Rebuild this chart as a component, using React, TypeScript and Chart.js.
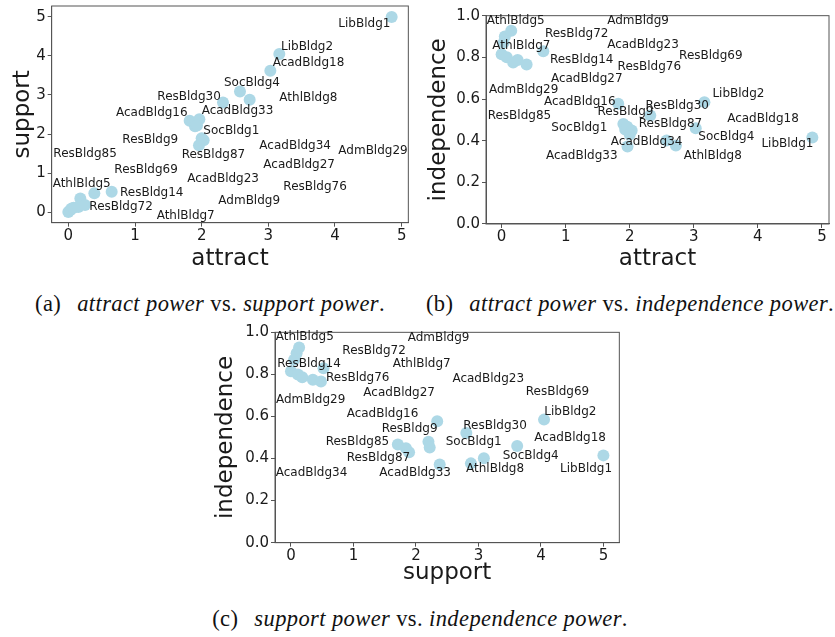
import React, { useEffect, useRef } from 'react';
import { Chart, registerables } from 'chart.js';

Chart.register(...registerables);

// ---- point values (one entry per building point) ----
const attractPower = [0.0, 0.03, 0.05, 0.08, 0.15, 0.18, 0.25, 0.39, 0.65, 1.82, 1.965, 2.32, 2.575, 2.72, 3.03, 3.165, 4.85, 1.9, 1.93, 1.96, 2.03, 2.0];
const supportPower = [0.0, 0.05, 0.09, 0.11, 0.13, 0.35, 0.18, 0.48, 0.52, 2.34, 2.38, 2.806, 3.087, 2.88, 3.62, 4.05, 5.0, 2.2, 2.22, 1.71, 1.84, 1.89];
const independencePower = [0.815, 0.87, 0.9, 0.8, 0.928, 0.775, 0.787, 0.766, 0.829, 0.577, 0.372, 0.521, 0.401, 0.377, 0.46, 0.585, 0.415, 0.48, 0.453, 0.467, 0.449, 0.43];

// ---- building names used for the annotations ----
const buildingNames = [
  'LibBldg1', 'LibBldg2', 'AcadBldg18', 'SocBldg4', 'ResBldg30', 'AthlBldg8',
  'AcadBldg16', 'AcadBldg33', 'SocBldg1', 'ResBldg9', 'ResBldg87', 'AcadBldg34',
  'AdmBldg29', 'ResBldg85', 'ResBldg69', 'AcadBldg27', 'AcadBldg23', 'ResBldg76',
  'AthlBldg5', 'ResBldg14', 'ResBldg72', 'AdmBldg9', 'AthlBldg7',
];

// annotation anchors (data units), panel (a): attract vs support
const annotA_attract = [4.05, 3.19, 3.065, 2.335, 1.335, 3.165, 0.715, 2.0, 2.025, 0.81, 1.7, 2.865, 4.05, -0.225, 0.69, 2.925, 1.785, 3.225, -0.235, 0.775, 0.315, 2.25, 1.325];
const annotA_support = [4.81, 4.23, 3.82, 3.32, 2.96, 2.92, 2.53, 2.58, 2.07, 1.86, 1.47, 1.69, 1.58, 1.5, 1.09, 1.22, 0.86, 0.645, 0.73, 0.49, 0.12, 0.29, -0.095];
// panel (b): attract vs independence
const annotB_attract = [4.055, 3.29, 3.52, 3.07, 2.245, 2.843, 0.66, 0.691, 0.776, 1.497, 2.14, 1.705, -0.198, -0.218, 2.77, 0.769, 1.647, 1.81, -0.234, 0.754, 0.676, 1.647, -0.145];
const annotB_indep = [0.384, 0.624, 0.504, 0.419, 0.566, 0.326, 0.584, 0.326, 0.462, 0.539, 0.483, 0.395, 0.643, 0.52, 0.808, 0.696, 0.862, 0.752, 0.976, 0.787, 0.915, 0.976, 0.856];
// panel (c): support vs independence
const annotC_support = [4.306, 4.055, 3.895, 3.388, 2.758, 2.801, 0.891, 1.414, 2.476, 1.451, 0.891, -0.245, -0.24, 0.555, 3.757, 1.158, 2.583, 0.56, -0.245, -0.219, 0.822, 1.868, 1.627];
const annotC_indep = [0.35, 0.62, 0.499, 0.413, 0.556, 0.35, 0.61, 0.33, 0.477, 0.543, 0.404, 0.334, 0.678, 0.477, 0.718, 0.713, 0.778, 0.784, 0.979, 0.852, 0.913, 0.974, 0.848];

// ---- tick values ----
const powerTicks = [0, 1, 2, 3, 4, 5];
const independenceTicks = [0, 0.2, 0.4, 0.6, 0.8, 1.0];

const POINT_COLOR = '#add8e6';
const TEXT_COLOR = '#1a1a1a';
const SPINE_COLOR = '#555555';
const FONT = 'DejaVu Sans';

type PanelCfg = {
  left: number; top: number; width: number; height: number;
  padTop: number; padRight: number; yAxisWidth: number; xAxisHeight: number;
  xTitlePad: number; yTitlePad: number;
  xMin: number; xMax: number; yMin: number; yMax: number;
  xs: number[]; ys: number[]; xTicks: number[]; yTicks: number[];
  xTitle: string; yTitle: string; yDecimals: number;
  annX: number[]; annY: number[];
};

const framePlugin = {
  id: 'frame',
  afterDatasetsDraw(chart: any) {
    const { ctx, chartArea } = chart;
    ctx.save();
    ctx.strokeStyle = SPINE_COLOR;
    ctx.lineWidth = 1;
    ctx.strokeRect(chartArea.left, chartArea.top, chartArea.right - chartArea.left, chartArea.bottom - chartArea.top);
    ctx.restore();
  },
};

const makeAnnotPlugin = (annX: number[], annY: number[]) => ({
  id: 'annot',
  afterDraw(chart: any) {
    const { ctx, scales } = chart;
    ctx.save();
    ctx.font = `12px "${FONT}"`;
    ctx.fillStyle = TEXT_COLOR;
    ctx.textAlign = 'left';
    ctx.textBaseline = 'middle';
    buildingNames.forEach((name, i) => {
      const px = scales.x.getPixelForValue(annX[i]);
      const py = scales.y.getPixelForValue(annY[i]);
      ctx.fillText(name, px, py);
    });
    ctx.restore();
  },
});

function Panel({ cfg }: { cfg: PanelCfg }) {
  const ref = useRef<HTMLCanvasElement | null>(null);
  useEffect(() => {
    if (!ref.current) return;
    const tickFont = { family: FONT, size: 15 };
    const titleFont = { family: FONT, size: 23 };
    const chart = new Chart(ref.current, {
      type: 'scatter',
      data: {
        datasets: [{
          data: cfg.xs.map((x, i) => ({ x, y: cfg.ys[i] })),
          backgroundColor: POINT_COLOR,
          borderWidth: 0,
          pointRadius: 6,
          pointHoverRadius: 6,
        }],
      },
      options: {
        responsive: false,
        animation: false,
        events: [],
        layout: { padding: { left: 0, top: cfg.padTop, right: cfg.padRight, bottom: 0 } },
        plugins: { legend: { display: false }, tooltip: { enabled: false } },
        scales: {
          x: {
            type: 'linear',
            min: cfg.xMin,
            max: cfg.xMax,
            afterBuildTicks: (s: any) => { s.ticks = cfg.xTicks.map((v) => ({ value: v })); },
            afterFit: (s: any) => { s.height = cfg.xAxisHeight; s.paddingLeft = 0; s.paddingRight = 0; },
            grid: { drawOnChartArea: false, drawTicks: true, tickLength: 4, color: SPINE_COLOR, lineWidth: 1 },
            border: { display: true, color: SPINE_COLOR, width: 1 },
            ticks: { font: tickFont, color: TEXT_COLOR, padding: 0, autoSkip: false, maxRotation: 0, callback: (v: any) => String(v) },
            title: { display: true, text: cfg.xTitle, font: titleFont, color: TEXT_COLOR, padding: { top: 0, bottom: cfg.xTitlePad } },
          },
          y: {
            type: 'linear',
            min: cfg.yMin,
            max: cfg.yMax,
            afterBuildTicks: (s: any) => { s.ticks = cfg.yTicks.map((v) => ({ value: v })); },
            afterFit: (s: any) => { s.width = cfg.yAxisWidth; s.paddingTop = 0; s.paddingBottom = 0; },
            grid: { drawOnChartArea: false, drawTicks: true, tickLength: 4, color: SPINE_COLOR, lineWidth: 1 },
            border: { display: true, color: SPINE_COLOR, width: 1 },
            ticks: { font: tickFont, color: TEXT_COLOR, padding: 2, autoSkip: false, callback: (v: any) => Number(v).toFixed(cfg.yDecimals) },
            title: { display: true, text: cfg.yTitle, font: titleFont, color: TEXT_COLOR, padding: { top: cfg.yTitlePad, bottom: 0 } },
          },
        },
      } as any,
      plugins: [framePlugin, makeAnnotPlugin(cfg.annX, cfg.annY)],
    });
    return () => chart.destroy();
  }, [cfg]);
  return (
    <canvas
      ref={ref}
      width={cfg.width}
      height={cfg.height}
      style={{ position: 'absolute', left: cfg.left, top: cfg.top, width: cfg.width, height: cfg.height }}
    />
  );
}

const panelA: PanelCfg = {
  left: 0, top: 0, width: 415, height: 275,
  padTop: 5, padRight: 6.67, yAxisWidth: 51.67, xAxisHeight: 52.33,
  xTitlePad: 2.2, yTitlePad: 9.2,
  xMin: -0.25, xMax: 5.1, yMin: -0.272, yMax: 5.28,
  xs: attractPower, ys: supportPower, xTicks: powerTicks, yTicks: powerTicks,
  xTitle: 'attract', yTitle: 'support', yDecimals: 0,
  annX: annotA_attract, annY: annotA_support,
};

const panelB: PanelCfg = {
  left: 415, top: 0, width: 420, height: 275,
  padTop: 15.67, padRight: 5.67, yAxisWidth: 71, xAxisHeight: 51,
  xTitlePad: 2.5, yTitlePad: 10.2,
  xMin: -0.244, xMax: 5.11, yMin: 0, yMax: 1,
  xs: attractPower, ys: independencePower, xTicks: powerTicks, yTicks: independenceTicks,
  xTitle: 'attract', yTitle: 'independence', yDecimals: 1,
  annX: annotB_attract, annY: annotB_indep,
};

const panelC: PanelCfg = {
  left: 210, top: 320, width: 420, height: 270,
  padTop: 12.33, padRight: 10.67, yAxisWidth: 65, xAxisHeight: 47.33,
  xTitlePad: 2.9, yTitlePad: 2.2,
  xMin: -0.256, xMax: 5.255, yMin: 0, yMax: 1,
  xs: supportPower, ys: independencePower, xTicks: powerTicks, yTicks: independenceTicks,
  xTitle: 'support', yTitle: 'independence', yDecimals: 1,
  annX: annotC_support, annY: annotC_indep,
};

const captionStyle = (centerX: number, top: number): React.CSSProperties => ({
  position: 'absolute',
  left: centerX,
  top,
  transform: 'translateX(-50%)',
  whiteSpace: 'nowrap',
  fontFamily: '"Liberation Serif", "DejaVu Serif", serif',
  fontSize: '22.5px',
  lineHeight: '1',
  color: '#111',
  letterSpacing: '0.4px',
});

function Caption({ tag, first, second, centerX, top }: { tag: string; first: string; second: string; centerX: number; top: number }) {
  return (
    <div style={captionStyle(centerX, top)}>
      <span>({tag})</span>
      <span style={{ marginLeft: 16 }}>
        <i>{first}</i> vs. <i>{second}</i>.
      </span>
    </div>
  );
}

export default function App() {
  return (
    <div style={{ position: 'absolute', left: 0, top: 0, width: 835, height: 637, background: '#fff', overflow: 'hidden' }}>
      <Panel cfg={panelA} />
      <Panel cfg={panelB} />
      <Panel cfg={panelC} />
      <Caption tag="a" first="attract power" second="support power" centerX={210} top={293} />
      <Caption tag="b" first="attract power" second="independence power" centerX={630} top={293} />
      <Caption tag="c" first="support power" second="independence power" centerX={420} top={608} />
    </div>
  );
}
